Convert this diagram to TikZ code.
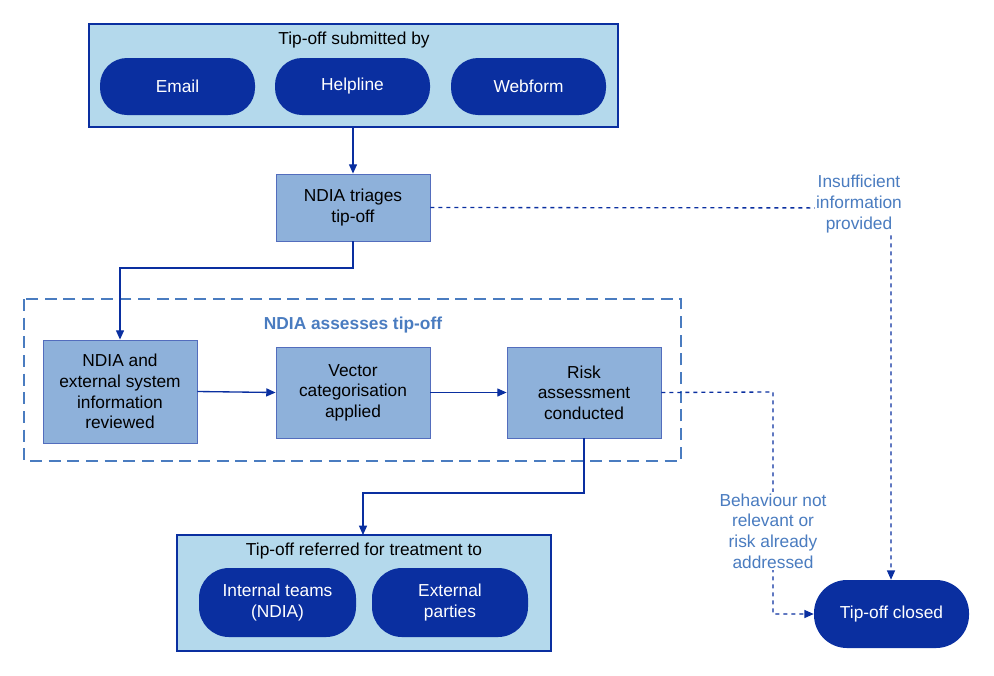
\documentclass[tikz,border=0pt]{standalone}
\usepackage{fontspec}
\setmainfont{Liberation Sans}
\usetikzlibrary{arrows.meta}
\definecolor{dkb}{HTML}{0A2FA0}
\definecolor{lb}{HTML}{B4D9EC}
\definecolor{mb}{HTML}{8EB1DA}
\definecolor{tb}{HTML}{4A7CC0}
\begin{document}
\begin{tikzpicture}[x=0.75pt,y=-0.75pt,
 every node/.style={font=\fontsize{13}{15.5}\selectfont, align=center},
 outer/.style={draw=dkb, fill=lb, line width=1pt},
 pill/.style={fill=dkb, text=white, rounded corners=27*0.75pt},
 proc/.style={draw=dkb!70, fill=mb, line width=0.6pt},
 arr/.style={draw=dkb, line width=1pt, -{Triangle[length=7pt,width=6pt]}},
 darr/.style={draw=dkb, line width=1pt, dashed, -{Triangle[length=7pt,width=6pt]}},
 lbl/.style={text=tb, fill=white, inner sep=1pt}]
\useasboundingbox (0,0) rectangle (994,675);
\path[outer] (89,24) rectangle (618,127);
\node (top) at (353.5,75.5) [minimum width=529*0.75pt, minimum height=103*0.75pt] {};
\node at (354,40) {Tip-off submitted by};
\path[pill] (100,58) rectangle (255,115); \node (email) at (177.5,86.5) [text=white] {Email};
\path[pill] (275,58) rectangle (430,115); \node (help) at (352.5,86.5) [text=white] {Helpline};
\path[pill] (451,58) rectangle (606,115); \node (web) at (528.5,86.5) [text=white] {Webform};

\node[proc, minimum width=154*0.75pt, minimum height=67*0.75pt] (tri) at (353,207.5) {NDIA triages\\tip-off};

\draw[dashed, draw=tb, line width=1.2pt, dash pattern=on 9pt off 5pt] (24,299) rectangle (681,461);
\node[text=tb, font=\fontsize{13}{15.5}\selectfont\bfseries] at (353,325) {NDIA assesses tip-off};
\node[proc, minimum width=154*0.75pt, minimum height=103*0.75pt] (rev) at (120,391.5) {NDIA and\\external system\\information\\reviewed};
\node[proc, minimum width=154*0.75pt, minimum height=91*0.75pt] (vec) at (353,392.5) {Vector\\categorisation\\applied};
\node[proc, minimum width=154*0.75pt, minimum height=91*0.75pt] (risk) at (584,392.5) {Risk\\assessment\\conducted};

\path[outer] (177,535) rectangle (551,651);
\node (bot) at (364,593) [minimum width=374*0.75pt, minimum height=116*0.75pt] {};
\node at (364,551) {Tip-off referred for treatment to};
\path[pill, rounded corners=30*0.75pt] (199,568) rectangle (356,637); \node (int) at (277.5,602.5) [text=white] {Internal teams\\(NDIA)};
\path[pill, rounded corners=30*0.75pt] (372,568) rectangle (528,637); \node (ext) at (450,602.5) [text=white] {External\\parties};

\path[pill, rounded corners=33*0.75pt] (814,580) rectangle (969,648);
\node (closed) at (891.5,614) [minimum width=155*0.75pt, minimum height=68*0.75pt, text=white] {Tip-off closed};

\draw[arr] (top.south -| tri) -- (tri.north);
\draw[arr] (tri.south) -- (353,268) -- (120,268) -- (rev.north);
\draw[arr] (rev.east) -- (vec.west);
\draw[arr] (vec.east) -- (risk.west);
\draw[arr] (risk.south) -- (584,493) -- (363,493) -- (363,535);
\draw[darr] (tri.east) -- (891,208) -- (closed.north -| 891,0);
\draw[darr] (risk.east) -- (773,392) -- (773,614) -- (closed.west);
\node[lbl] at (859,204) {Insufficient\\information\\provided};
\node[lbl] at (773,531) {Behaviour not\\relevant or\\risk already\\addressed};
\end{tikzpicture}
\end{document}
